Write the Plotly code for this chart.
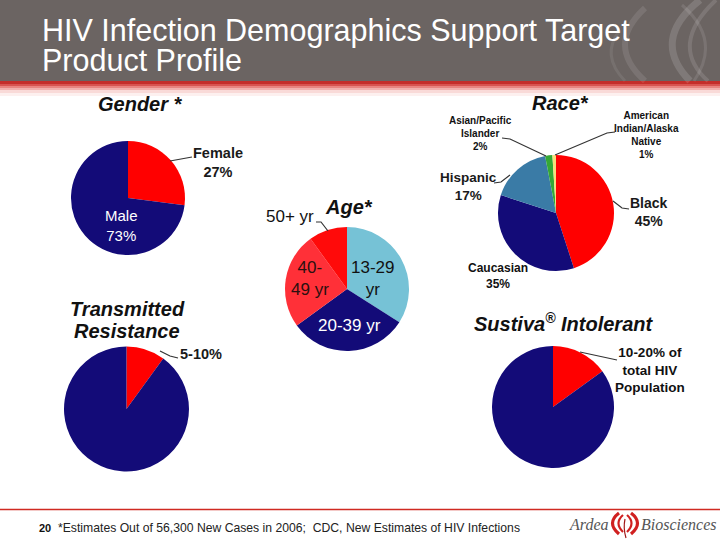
import plotly.graph_objects as go

W, H = 720, 540

# ---------------- data ----------------
gender_labels = ["Female", "Male"]
gender_values = [27, 73]

age_labels = ["13-29 yr", "20-39 yr", "40-49 yr", "50+ yr"]
age_values = [34, 31, 25, 10]

race_labels = ["Black", "Caucasian", "Hispanic", "Asian/Pacific Islander", "American Indian/Alaska Native"]
race_values = [45, 35, 17, 2, 1]

resistance_labels = ["5-10%", "Other"]
resistance_values = [10, 90]

sustiva_labels = ["10-20% of total HIV Population", "Other"]
sustiva_values = [15, 85]

title_line1 = "HIV Infection Demographics Support Target"
title_line2 = "Product Profile"
footnote = "*Estimates Out of 56,300 New Cases in 2006;  CDC, New Estimates of HIV Infections"
page_number = "20"

NAVY = "#130B78"
RED = "#FF0000"
FONT = "Liberation Sans, Arial, sans-serif"
SERIF = "Liberation Serif, Times New Roman, serif"


def fx(x):
    return x / W


def fy(y):
    return 1 - y / H


def dom(cx, cy, r):
    return dict(x=[fx(cx - r), fx(cx + r)], y=[fy(cy + r), fy(cy - r)])


def pie(values, labels, colors, cx, cy, r):
    return go.Pie(values=values, labels=labels, sort=False, direction="clockwise",
                  rotation=0, textinfo="none", hoverinfo="label+percent",
                  marker=dict(colors=colors, line=dict(width=0)),
                  showlegend=False, domain=dom(cx, cy, r))


fig = go.Figure()
fig.add_trace(pie(gender_values, gender_labels, [RED, NAVY], 128, 198, 57))
fig.add_trace(pie(age_values, age_labels, ["#76C2D6", NAVY, "#FF3038", "#FF0A0A"], 347, 289, 62))
fig.add_trace(pie(race_values, race_labels, [RED, NAVY, "#3A7BA6", "#35A835", "#F5E07A"], 556, 213, 58))
fig.add_trace(pie(resistance_values, resistance_labels, [RED, NAVY], 126.5, 409, 62.5))
fig.add_trace(pie(sustiva_values, sustiva_labels, [RED, NAVY], 553, 407, 61))


def pp(d):
    # convert "x,y" pixel tokens to paper coords
    out = []
    for tok in d.split():
        if "," in tok:
            a, b = tok.split(",")
            out.append(f"{fx(float(a)):.5f},{fy(float(b)):.5f}")
        else:
            out.append(tok)
    return " ".join(out)


shapes = []
# header
shapes.append(dict(type="rect", xref="paper", yref="paper", x0=0, x1=1, y0=fy(81), y1=1,
                   fillcolor="#6B6462", line=dict(width=0), layer="below"))
for y0, y1, c in [(81, 84, "#C42E2A"), (84, 86, "#D85450"), (86, 88, "#E88580"),
                  (88, 90, "#F2B0AC"), (90, 93, "#F9DAD8"), (93, 96, "#FDF0EF")]:
    shapes.append(dict(type="rect", xref="paper", yref="paper", x0=0, x1=1, y0=fy(y1), y1=fy(y0),
                       fillcolor=c, line=dict(width=0), layer="below"))
# decorative arcs in header
for d, wdt, op in [("M 700,0 Q 650,40 690,81", 7, 0.14),
                   ("M 716,0 Q 668,45 708,81", 4, 0.12),
                   ("M 645,8 Q 605,45 645,81", 6, 0.10),
                   ("M 682,5 Q 722,40 694,81", 3, 0.10),
                   ("M 620,30 Q 600,55 625,81", 3, 0.08)]:
    shapes.append(dict(type="path", xref="paper", yref="paper", path=pp(d),
                       line=dict(color=f"rgba(255,255,255,{op})", width=wdt), layer="below"))

# footer line
shapes.append(dict(type="line", xref="paper", yref="paper", x0=0, x1=1, y0=fy(509.5), y1=fy(509.5),
                   line=dict(color="#D02A22", width=1.5)))

# leader lines
for d in ["M 170,161 L 192,157",
          "M 316,222 L 321,222 L 328,231",
          "M 502,138 L 510,139 L 546,156",
          "M 615,132 L 607,133 L 555,155",
          "M 494,183 L 501,182 L 510,175",
          "M 613,201 L 622,208 L 629,209",
          "M 160,351 L 170,356 L 178,358",
          "M 580,352 L 617,360"]:
    shapes.append(dict(type="path", xref="paper", yref="paper", path=pp(d),
                       line=dict(color="#333333", width=1.2)))

# logo symbol
for d, wdt in [("M 619,513 Q 606,523 619,534", 3.2), ("M 623,515 Q 614,523 623,532", 2.2),
               ("M 631,513 Q 644,523 631,534", 3.2), ("M 627,515 Q 636,523 627,532", 2.2)]:
    shapes.append(dict(type="path", xref="paper", yref="paper", path=pp(d),
                       line=dict(color="#D02020", width=wdt)))
shapes.append(dict(type="path", xref="paper", yref="paper", path=pp("M 625,519 Q 623,528 626,538"),
                   line=dict(color="#A01818", width=1.2)))

annotations = []


def ann(text, x, y, size, color="#111111", bold=False, italic=False, align="center",
        xanchor="center", family=FONT):
    t = text
    if bold:
        t = f"<b>{t}</b>"
    if italic:
        t = f"<i>{t}</i>"
    annotations.append(dict(text=t, x=fx(x), y=fy(y), xref="paper", yref="paper",
                            showarrow=False, xanchor=xanchor, yanchor="middle", align=align,
                            font=dict(family=family, size=size, color=color)))


# header title
ann(title_line1, 40, 30, 30.5, color="#FFFFFF", xanchor="left")
ann(title_line2, 40, 60, 30.5, color="#FFFFFF", xanchor="left")

# section titles
ann("Gender *", 140, 104, 20, bold=True, italic=True)
ann("Age*", 349, 207, 20, bold=True, italic=True)
ann("Race*", 560, 103, 20, bold=True, italic=True)
ann("Transmitted", 127, 309, 20, bold=True, italic=True)
ann("Resistance", 127, 331, 20, bold=True, italic=True)
ann("Sustiva<sup>®</sup> Intolerant", 563, 322, 20, bold=True, italic=True)

# gender labels
ann(f"{gender_labels[0]}<br>{gender_values[0]}%", 218, 162, 14.5, bold=True, color="#1A1A1A")
ann(f"{gender_labels[1]}<br>{gender_values[1]}%", 121, 225, 15, color="#FFFFFF")

# age labels
ann(age_labels[3], 290, 216, 17)
ann(age_labels[0].replace(" ", "<br>"), 372, 278, 17)
ann(age_labels[2].replace("-", "-<br>", 1), 310, 278, 17, color="#2A1010")
ann(age_labels[1], 349, 325, 17, color="#FFFFFF")

# race labels
ann(f"Asian/Pacific<br>Islander<br>{race_values[3]}%", 480, 134, 10, bold=True)
ann(f"American<br>Indian/Alaska<br>Native<br>{race_values[4]}%", 646, 135, 10, bold=True)
ann(f"{race_labels[2]}<br>{race_values[2]}%", 468, 186, 13.5, bold=True, color="#1A1A1A")
ann(f"{race_labels[0]}<br>{race_values[0]}%", 649, 212, 14, bold=True, color="#1A1A1A")
ann(f"{race_labels[1]}<br>{race_values[1]}%", 498, 276, 12, bold=True)

# resistance / sustiva labels
ann(resistance_labels[0], 201, 354, 14.5, bold=True, color="#1A1A1A")
ann("10-20% of<br>total HIV<br>Population", 650, 370, 13.5, bold=True)

# footer
ann(page_number, 45, 528, 11, bold=True)
ann(footnote, 56, 528, 12.2, color="#222222", xanchor="left")
ann("Ardea", 611, 524, 16, color="#555555", italic=True, xanchor="right", family=SERIF)
ann("Biosciences", 639, 524, 16, color="#555555", italic=True, xanchor="left", family=SERIF)

fig.update_layout(width=W, height=H, margin=dict(l=0, r=0, t=0, b=0),
                  paper_bgcolor="#FFFFFF", plot_bgcolor="#FFFFFF",
                  shapes=shapes, annotations=annotations)

fig.write_html("out.html", config={"displayModeBar": False})
